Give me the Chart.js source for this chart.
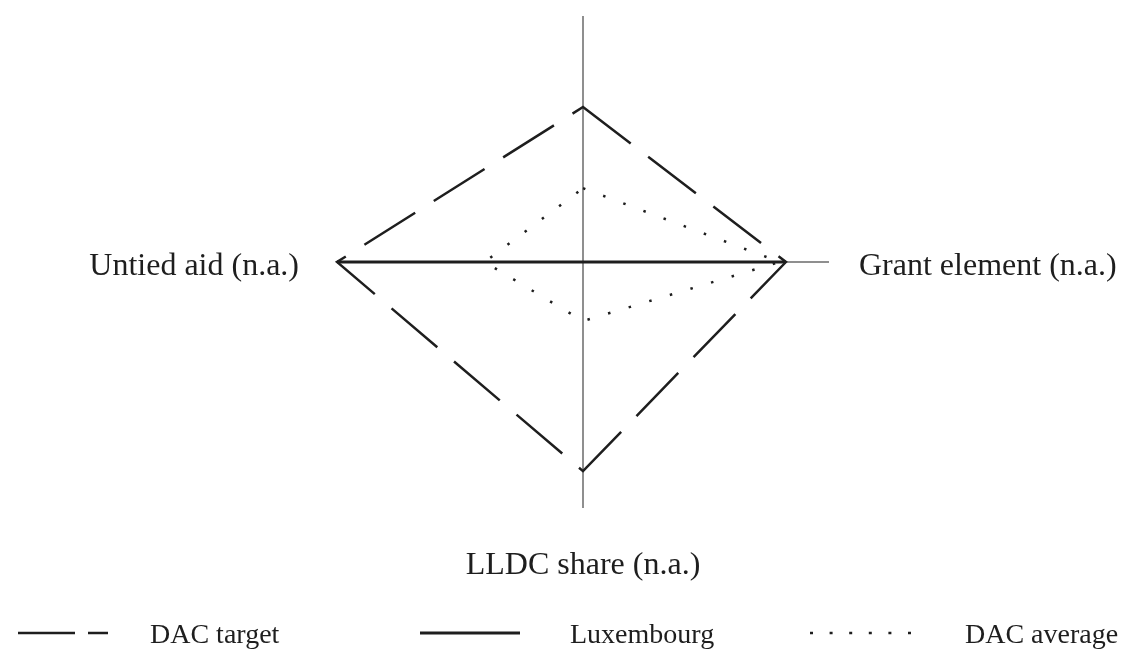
<!DOCTYPE html>
<html>
<head>
<meta charset="utf-8">
<script src="https://cdn.jsdelivr.net/npm/chart.js@4"></script>
<style>
  html, body { margin: 0; padding: 0; background: #ffffff; }
  #wrap { width: 1143px; height: 658px; position: relative; }
</style>
</head>
<body>
<div id="wrap"><canvas id="c" width="1143" height="658"></canvas></div>
<script>
const categories = ['', 'Grant element (n.a.)', 'LLDC share (n.a.)', 'Untied aid (n.a.)'];
const seriesNames = ['DAC target', 'Luxembourg', 'DAC average'];
const dacTarget = [63, 82.5, 85, 100];
const luxembourg = [0, 82.5, 0, 100];
const dacAverage = [30, 80, 24, 40];

const INK = '#1e1e1e';
const SERIF = '"Liberation Serif", "DejaVu Serif", serif';

const styles = [
  { borderColor: INK, borderWidth: 2.5, borderDash: [60, 22], legendDash: [57, 13] },
  { borderColor: INK, borderWidth: 3, borderDash: [], legendDash: [] },
  { borderColor: INK, borderWidth: 2.5, borderDash: [2.5, 19], legendDash: [3, 16.6] }
];

const labelPlugin = {
  id: 'axisLabels',
  afterDraw(chart) {
    const ctx = chart.ctx;
    const scale = chart.scales.r;
    const R = scale.drawingArea;
    ctx.save();
    ctx.fillStyle = INK;
    ctx.font = '32px ' + SERIF;
    ctx.textBaseline = 'middle';
    // right label
    let p = scale.getPointPosition(1, R + 30);
    ctx.textAlign = 'left';
    ctx.fillText(categories[1], p.x, p.y + 5);
    // bottom label
    p = scale.getPointPosition(2, R + 58);
    ctx.textAlign = 'center';
    ctx.fillText(categories[2], p.x, p.y);
    // left label
    p = scale.getPointPosition(3, R + 38);
    ctx.textAlign = 'right';
    ctx.fillText(categories[3], p.x, p.y + 5);
    ctx.restore();
  }
};

const legendPlugin = {
  id: 'customLegend',
  afterDraw(chart) {
    const ctx = chart.ctx;
    const y = 633;
    const items = [
      { x0: 18, x1: 108, tx: 150 },
      { x0: 420, x1: 520, tx: 570 },
      { x0: 810, x1: 912, tx: 965 }
    ];
    ctx.save();
    items.forEach((it, i) => {
      const st = styles[i];
      ctx.strokeStyle = st.borderColor;
      ctx.lineWidth = st.borderWidth;
      ctx.setLineDash(st.legendDash);
      ctx.beginPath();
      ctx.moveTo(it.x0, y);
      ctx.lineTo(it.x1, y);
      ctx.stroke();
      ctx.setLineDash([]);
      ctx.fillStyle = INK;
      ctx.font = '28px ' + SERIF;
      ctx.textAlign = 'left';
      ctx.textBaseline = 'middle';
      ctx.fillText(seriesNames[i], it.tx, y + 3);
    });
    ctx.restore();
  }
};

const seriesData = [dacTarget, luxembourg, dacAverage];

new Chart(document.getElementById('c'), {
  type: 'radar',
  data: {
    labels: categories,
    datasets: seriesData.map((d, i) => ({
      label: seriesNames[i],
      data: d,
      fill: false,
      borderColor: styles[i].borderColor,
      borderWidth: styles[i].borderWidth,
      borderDash: styles[i].borderDash,
      pointRadius: 0,
      pointHoverRadius: 0,
      tension: 0
    }))
  },
  options: {
    responsive: false,
    animation: false,
    devicePixelRatio: 1,
    layout: { padding: { top: 16, bottom: 150, left: 100, right: 77 } },
    plugins: { legend: { display: false }, tooltip: { enabled: false }, title: { display: false } },
    scales: {
      r: {
        min: 0,
        max: 100,
        ticks: { display: false },
        grid: { display: false },
        angleLines: { display: true, color: '#6a6a6a', lineWidth: 1.5 },
        pointLabels: { display: false }
      }
    }
  },
  plugins: [labelPlugin, legendPlugin]
});
</script>
</body>
</html>
